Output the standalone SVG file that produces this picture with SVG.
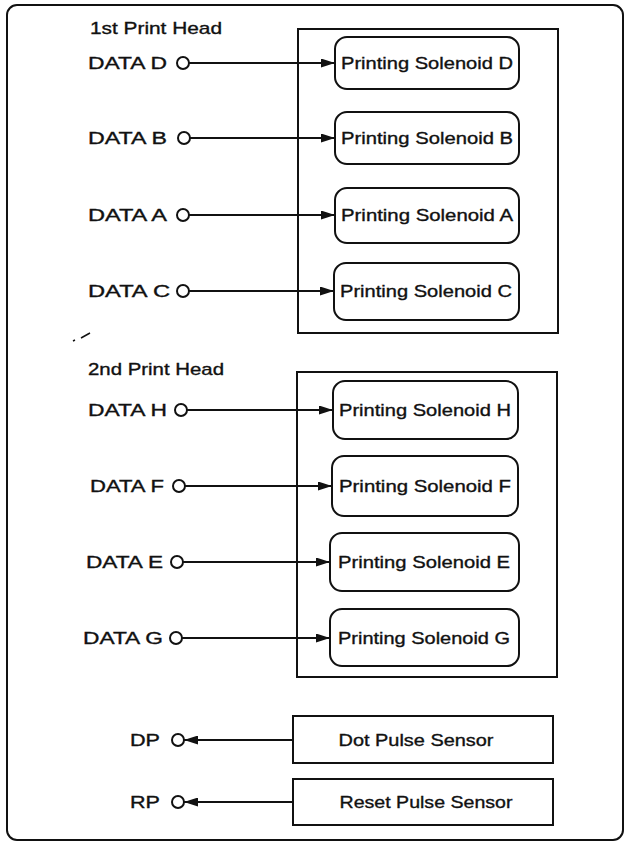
<svg xmlns="http://www.w3.org/2000/svg" width="629" height="845" viewBox="0 0 629 845">
<style>
  text { font-family: "Liberation Sans", Arial, sans-serif; font-size: 17px; fill: #111; stroke: #111; stroke-width: 0.35; }
  .box { fill: none; stroke: #111; stroke-width: 2; }
  .sol { fill: #fff; stroke: #111; stroke-width: 2; }
  .wire { stroke: #111; stroke-width: 2; fill: none; }
  .term { fill: #fff; stroke: #111; stroke-width: 2; }
  .mid { text-anchor: middle; }
</style>
<defs>
  <marker id="arr" viewBox="0 0 14 9" refX="14" refY="4.5" markerWidth="14" markerHeight="9" markerUnits="userSpaceOnUse" orient="auto">
    <path d="M0,0 L14,4.5 L0,9 z" fill="#111"/>
  </marker>
</defs>
<rect width="629" height="845" fill="#fff"/>
<rect id="frame" x="7" y="5" width="616" height="835" rx="10" class="box"/>

<g id="head1">
  <text x="90" y="34" textLength="132" lengthAdjust="spacingAndGlyphs">1st Print Head</text>
  <rect x="298" y="29" width="260" height="304" class="box"/>
</g>
<g id="head2">
  <text x="88" y="375" textLength="136" lengthAdjust="spacingAndGlyphs">2nd Print Head</text>
  <rect x="297" y="372" width="260" height="305" class="box"/>
</g>

<g id="solD"><rect x="335" y="37" width="184" height="52" rx="12" class="sol"/><text x="427" y="69" class="mid" textLength="172" lengthAdjust="spacingAndGlyphs">Printing Solenoid D</text></g>
<g id="solB"><rect x="335" y="112" width="184" height="52" rx="12" class="sol"/><text x="427" y="144" class="mid" textLength="172" lengthAdjust="spacingAndGlyphs">Printing Solenoid B</text></g>
<g id="solA"><rect x="335" y="188" width="184" height="55" rx="12" class="sol"/><text x="427" y="221" class="mid" textLength="172" lengthAdjust="spacingAndGlyphs">Printing Solenoid A</text></g>
<g id="solC"><rect x="334" y="263" width="185" height="57" rx="12" class="sol"/><text x="426" y="297" class="mid" textLength="172" lengthAdjust="spacingAndGlyphs">Printing Solenoid C</text></g>
<g id="solH"><rect x="333" y="381" width="185" height="58" rx="12" class="sol"/><text x="425" y="416" class="mid" textLength="172" lengthAdjust="spacingAndGlyphs">Printing Solenoid H</text></g>
<g id="solF"><rect x="332" y="456" width="186" height="60" rx="12" class="sol"/><text x="425" y="492" class="mid" textLength="172" lengthAdjust="spacingAndGlyphs">Printing Solenoid F</text></g>
<g id="solE"><rect x="330" y="533" width="189" height="58" rx="12" class="sol"/><text x="424" y="568" class="mid" textLength="172" lengthAdjust="spacingAndGlyphs">Printing Solenoid E</text></g>
<g id="solG"><rect x="330" y="609" width="189" height="57" rx="12" class="sol"/><text x="424" y="644" class="mid" textLength="172" lengthAdjust="spacingAndGlyphs">Printing Solenoid G</text></g>

<g id="dps"><rect x="293" y="716" width="260" height="47" class="box"/><text x="416" y="746" class="mid" textLength="155" lengthAdjust="spacingAndGlyphs">Dot Pulse Sensor</text></g>
<g id="rps"><rect x="293" y="779" width="260" height="46" class="box"/><text x="426" y="808" class="mid" textLength="173" lengthAdjust="spacingAndGlyphs">Reset Pulse Sensor</text></g>

<g id="dataD"><text x="88" y="69" textLength="79" lengthAdjust="spacingAndGlyphs">DATA D</text><circle cx="183" cy="63" r="6" class="term"/></g>
<g id="dataB"><text x="88" y="144" textLength="79" lengthAdjust="spacingAndGlyphs">DATA B</text><circle cx="184" cy="138" r="6" class="term"/></g>
<g id="dataA"><text x="88" y="221" textLength="79" lengthAdjust="spacingAndGlyphs">DATA A</text><circle cx="183" cy="215" r="6" class="term"/></g>
<g id="dataC"><text x="88" y="297" textLength="82" lengthAdjust="spacingAndGlyphs">DATA C</text><circle cx="183" cy="291" r="6" class="term"/></g>
<g id="dataH"><text x="88" y="416" textLength="79" lengthAdjust="spacingAndGlyphs">DATA H</text><circle cx="181" cy="410" r="6" class="term"/></g>
<g id="dataF"><text x="90" y="492" textLength="74" lengthAdjust="spacingAndGlyphs">DATA F</text><circle cx="179" cy="486" r="6" class="term"/></g>
<g id="dataE"><text x="86" y="568" textLength="77" lengthAdjust="spacingAndGlyphs">DATA E</text><circle cx="177" cy="562" r="6" class="term"/></g>
<g id="dataG"><text x="83" y="644" textLength="80" lengthAdjust="spacingAndGlyphs">DATA G</text><circle cx="176" cy="638" r="6" class="term"/></g>
<g id="dp"><text x="130" y="746" textLength="30" lengthAdjust="spacingAndGlyphs">DP</text><circle cx="178" cy="740" r="6" class="term"/></g>
<g id="rp"><text x="130" y="808" textLength="30" lengthAdjust="spacingAndGlyphs">RP</text><circle cx="178" cy="802" r="6" class="term"/></g>

<g id="connectors">
  <line x1="189" y1="63" x2="335" y2="63" class="wire" marker-end="url(#arr)"/>
  <line x1="190" y1="138" x2="335" y2="138" class="wire" marker-end="url(#arr)"/>
  <line x1="189" y1="215" x2="335" y2="215" class="wire" marker-end="url(#arr)"/>
  <line x1="189" y1="291" x2="334" y2="291" class="wire" marker-end="url(#arr)"/>
  <line x1="187" y1="410" x2="333" y2="410" class="wire" marker-end="url(#arr)"/>
  <line x1="185" y1="486" x2="332" y2="486" class="wire" marker-end="url(#arr)"/>
  <line x1="183" y1="562" x2="330" y2="562" class="wire" marker-end="url(#arr)"/>
  <line x1="182" y1="638" x2="330" y2="638" class="wire" marker-end="url(#arr)"/>
  <line x1="293" y1="740" x2="184" y2="740" class="wire" marker-end="url(#arr)"/>
  <line x1="293" y1="802" x2="184" y2="802" class="wire" marker-end="url(#arr)"/>
</g>
<path d="M73,341 L75,340 M81,338 L90,333" stroke="#111" stroke-width="1.5" fill="none"/>
</svg>
